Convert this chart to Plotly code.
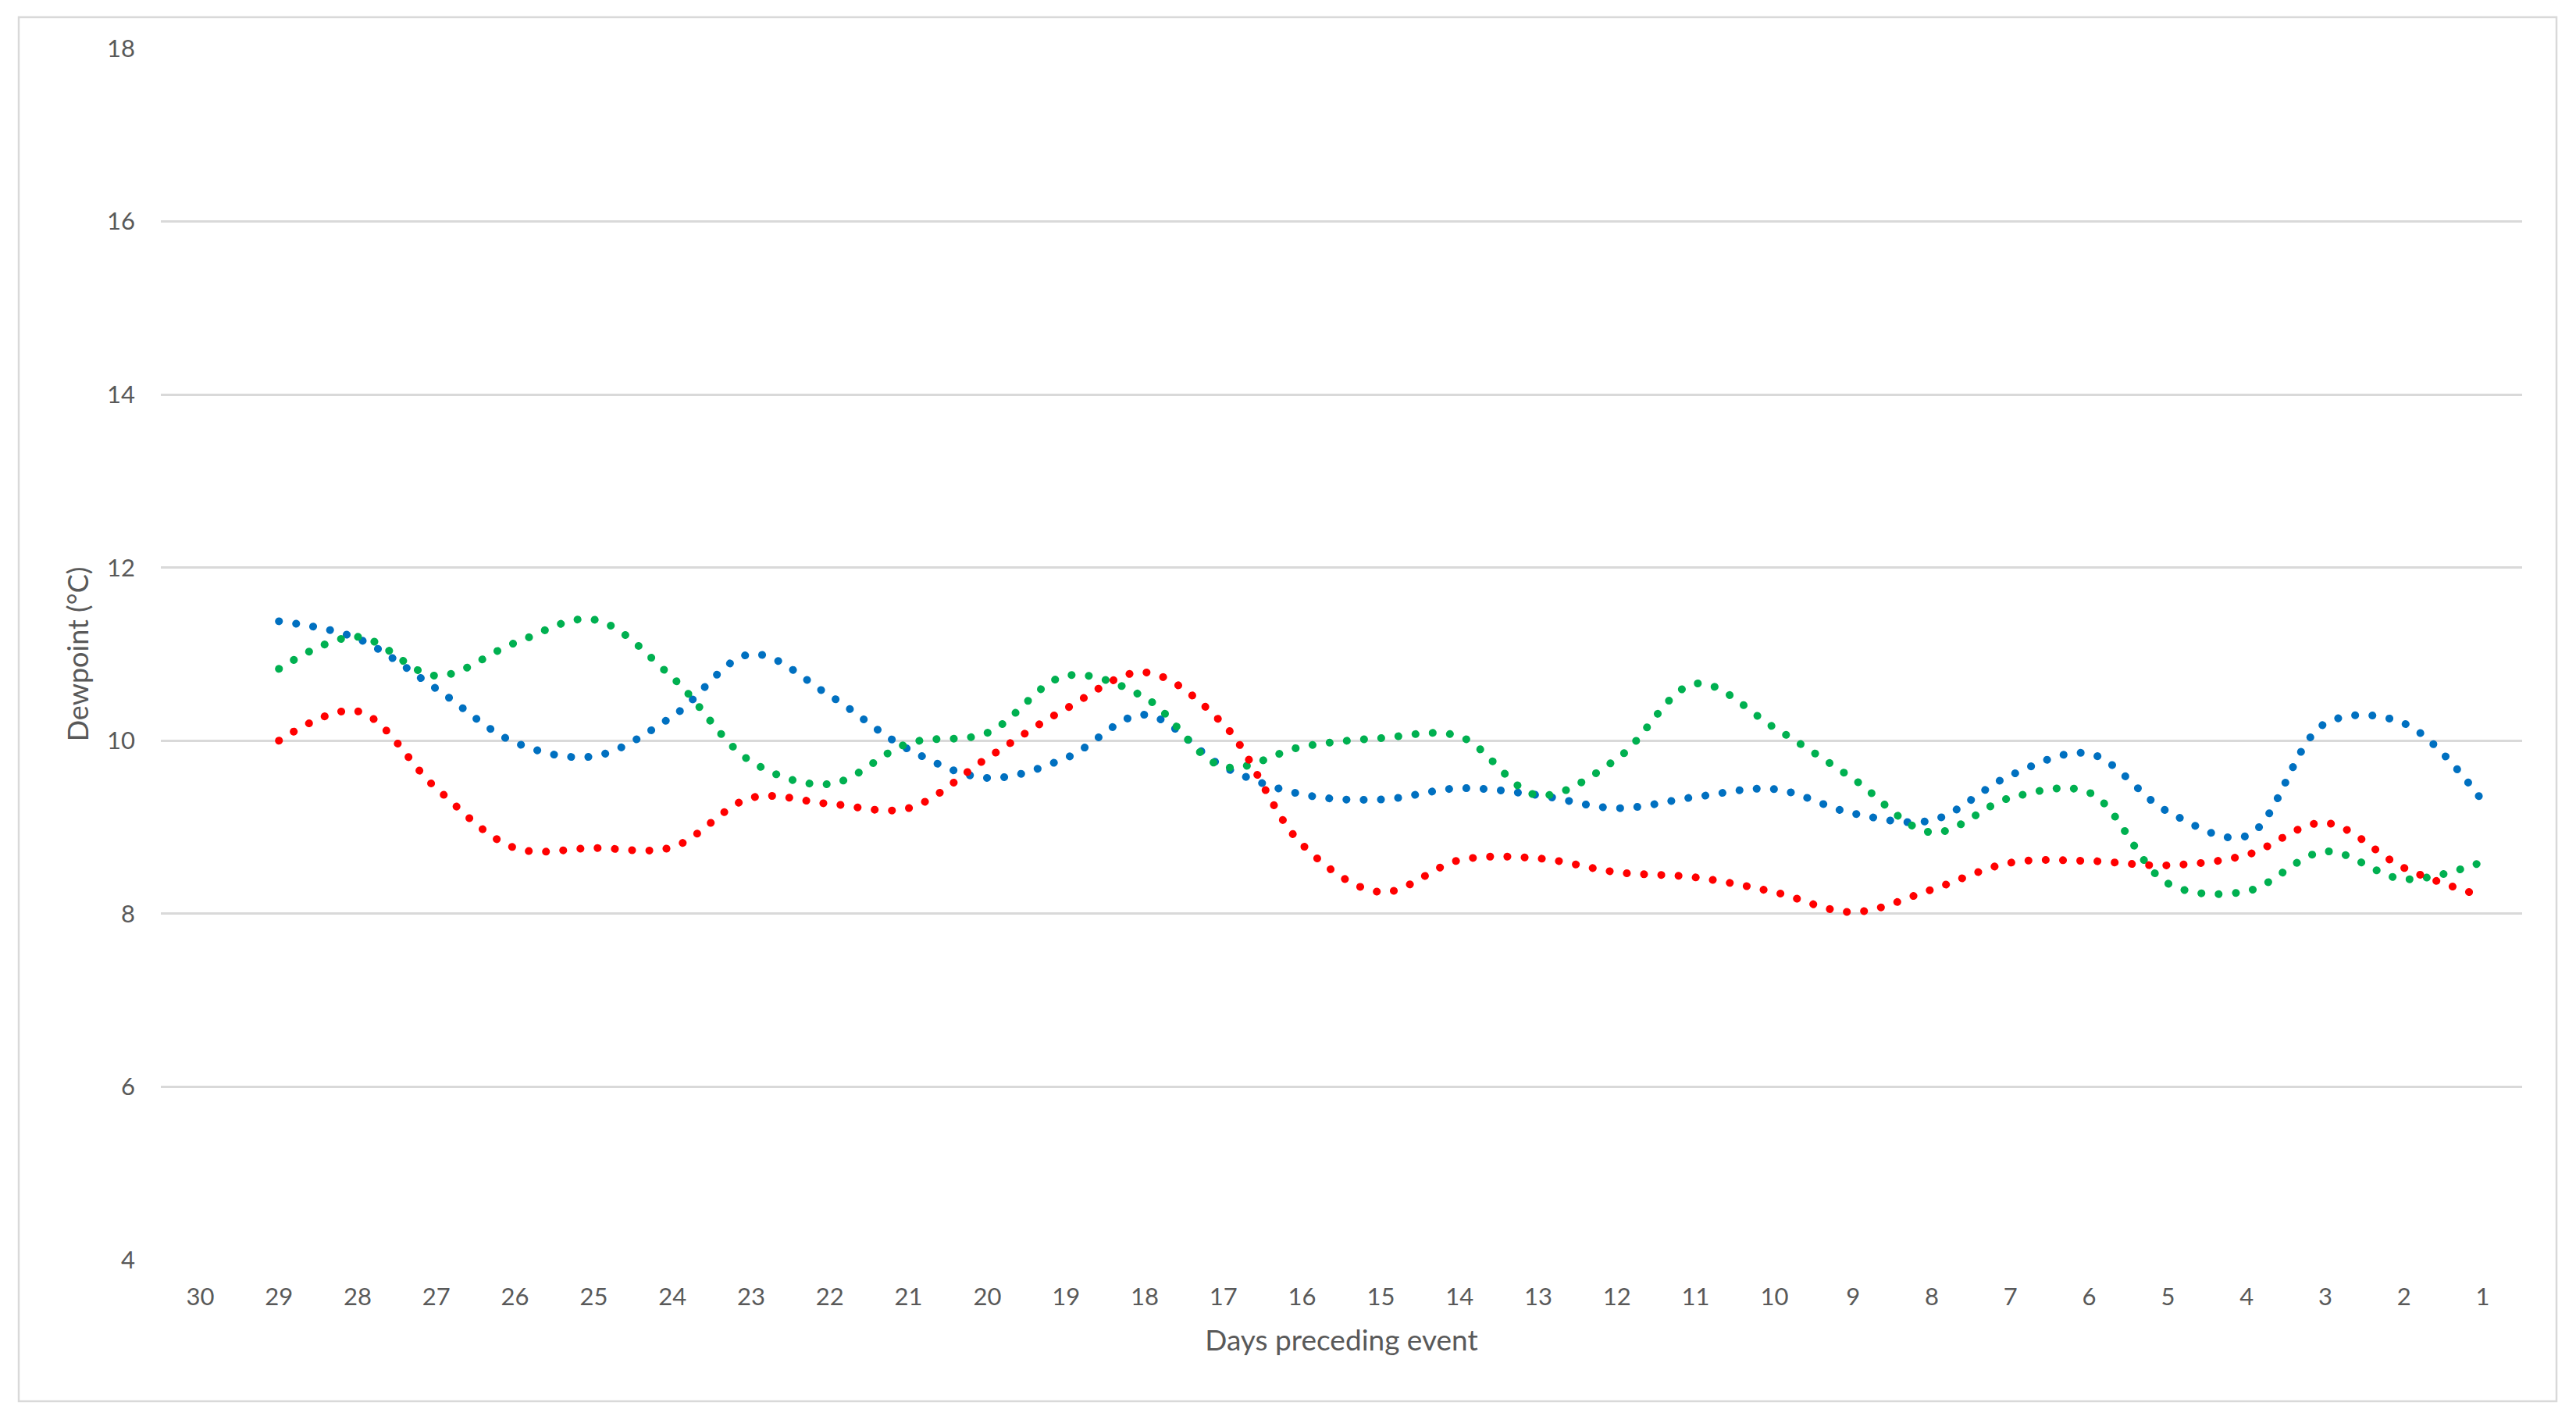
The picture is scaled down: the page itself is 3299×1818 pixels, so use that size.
import plotly.graph_objects as go

# ---- data ----
days = [str(d) for d in range(30, 0, -1)]
blue_vals = [None, 11.38, 11.18, 10.6, 9.98, 9.82, 10.28, 11.0, 10.52, 9.9,
             9.57, 9.8, 10.3, 9.7, 9.38, 9.32, 9.45, 9.37, 9.22, 9.35,
             9.44, 9.16, 9.08, 9.6, 9.85, 9.18, 8.9, 10.2, 10.2, 9.3]
green_vals = [None, 10.83, 11.2, 10.75, 11.13, 11.4, 10.73, 9.76, 9.5, 9.97,
              10.09, 10.75, 10.5, 9.7, 9.93, 10.03, 10.05, 9.37, 9.79, 10.66,
              10.15, 9.56, 8.94, 9.34, 9.4, 8.35, 8.26, 8.72, 8.4, 8.6]
red_vals = [None, 10.0, 10.34, 9.45, 8.76, 8.76, 8.77, 9.34, 9.27, 9.22,
            9.8, 10.37, 10.79, 10.19, 8.8, 8.25, 8.62, 8.64, 8.48, 8.42,
            8.25, 8.02, 8.28, 8.59, 8.61, 8.56, 8.68, 9.05, 8.53, 8.2]
y_ticks = [4, 6, 8, 10, 12, 14, 16, 18]

series = [("Series 1", blue_vals, "#0070C0"),
          ("Series 2", green_vals, "#00B050"),
          ("Series 3", red_vals, "#FF0000")]

W, H = 3299, 1818
L, R, T, B = 206, 69, 62, 205

fig = go.Figure()
for name, vals, col in series:
    fig.add_trace(go.Scatter(
        x=days, y=vals, name=name, mode="lines",
        line=dict(color=col, width=10, dash="0.1px,22px", shape="spline", smoothing=1.0),
        connectgaps=False, showlegend=False, hoverinfo="skip",
    ))

font = "Lato, 'Open Sans', sans-serif"
fig.update_layout(
    width=W, height=H,
    margin=dict(l=L, r=R, t=T, b=B),
    paper_bgcolor="white", plot_bgcolor="white",
    font=dict(family=font, size=31, color="#595959"),
    xaxis=dict(
        type="category", categoryorder="array", categoryarray=days,
        range=[-0.5, len(days) - 0.5],
        showgrid=False, showline=False, zeroline=False, ticks="",
        ticklabelstandoff=26,
        tickfont=dict(size=31, color="#595959"),
        title=dict(text="Days preceding event", font=dict(size=37, color="#595959"), standoff=26),
    ),
    yaxis=dict(
        range=[4, 18], tickvals=y_ticks, showgrid=True, gridcolor="#D9D9D9", gridwidth=2.5,
        zeroline=False, showline=False, ticks="", ticklabelstandoff=32,
        tickfont=dict(size=31, color="#595959"),
        title=dict(text="Dewpoint (°C)", font=dict(size=36, color="#595959"), standoff=12),
    ),
)

# outer chart border
x0 = (24 - L) / (W - L - R)
x1 = (3274 - L) / (W - L - R)
y0 = (H - 1794 - B) / (H - T - B)
y1 = (H - 22 - B) / (H - T - B)
fig.add_shape(type="rect", xref="paper", yref="paper", x0=x0, x1=x1, y0=y0, y1=y1,
              line=dict(color="#D9D9D9", width=2.5), layer="below")

post = """
var s = document.createElement('style');
s.innerHTML = 'html, body { margin: 0 !important; padding: 0 !important; } path.js-line { stroke-linecap: round !important; }';
document.head.appendChild(s);
"""
fig.write_html("out.html", post_script=post, config={"displayModeBar": False})
